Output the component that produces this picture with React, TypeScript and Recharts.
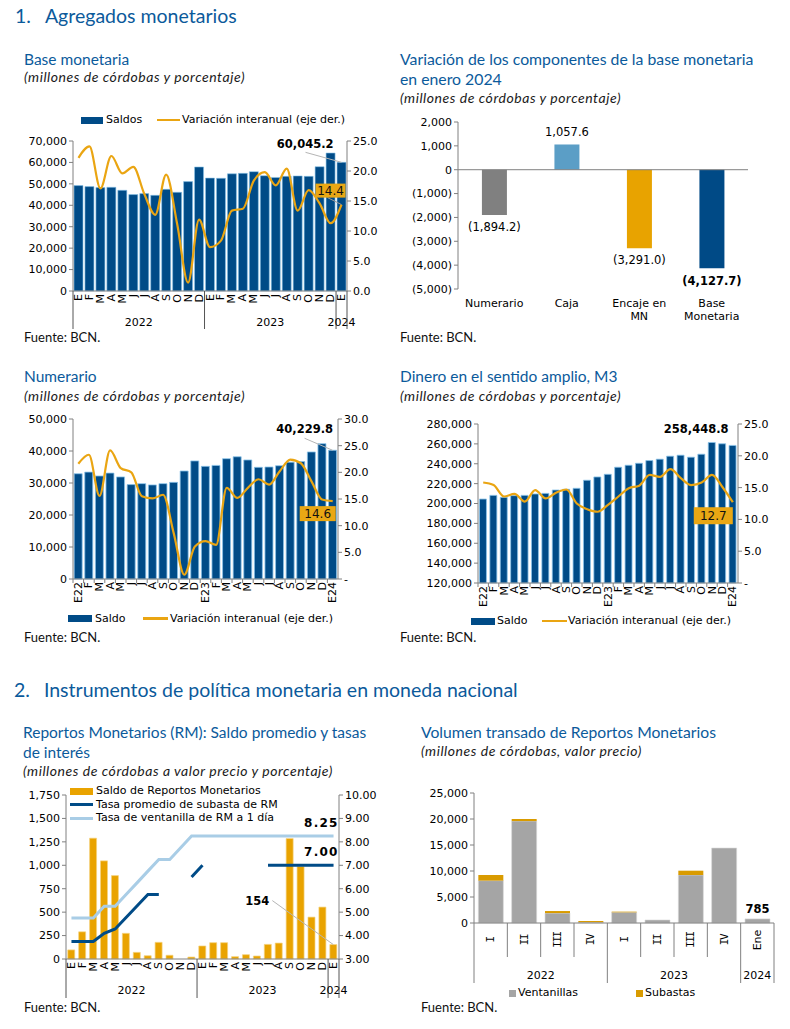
import React from 'react'
import { ComposedChart, BarChart, Bar, Line, XAxis, YAxis, Cell, LabelList, ReferenceLine } from 'recharts'

const TICK_FONT = '"DejaVu Sans", Verdana, sans-serif'
const ROMAN_FONT = '"DejaVu Sans Mono", monospace'
const HEAD_FONT = 'Lato, "Noto Sans", sans-serif'
const HEAD_BLUE = '#0b5a9b'
const BAR_BLUE = '#004b87'
const BAR_EDGE = '#8cc4ea'
const LINE_ORANGE = '#eaa512'
const AXIS = '#808080'

// 1. Base monetaria
const baseMonths = ['E', 'F', 'M', 'A', 'M', 'J', 'J', 'A', 'S', 'O', 'N', 'D', 'E', 'F', 'M', 'A', 'M', 'J', 'J', 'A', 'S', 'O', 'N', 'D', 'E']
const baseSaldos = [49190, 48720, 48250, 48400, 47000, 45000, 45450, 44660, 47460, 46060, 51050, 57870, 52700, 52600, 54700, 54900, 55700, 53800, 53000, 53500, 53700, 53500, 58000, 64400, 60045.2]
const baseVar = [22.2, 24.1, 17.1, 22.5, 19.6, 20.7, 16.2, 12.7, 19.4, 11.2, 1.4, 11.9, 7.3, 8.4, 13.4, 13.7, 18.4, 19.8, 17.6, 20.4, 13.4, 16.8, 14.6, 11.3, 14.4]
const baseLeftTicks = [0, 10000, 20000, 30000, 40000, 50000, 60000, 70000]
const baseRightTicks = [0, 5, 10, 15, 20, 25]

// Variación de componentes
const compNames = ['Numerario', 'Caja', 'Encaje en\nMN', 'Base\nMonetaria']
const compValues = [-1894.2, 1057.6, -3291.0, -4127.7]
const compColors = ['#808080', '#5b9ec6', '#e8a300', '#004a86']
const compTicks = [-5000, -4000, -3000, -2000, -1000, 0, 1000, 2000]

// Numerario
const longMonths = ['E22', 'F', 'M', 'A', 'M', 'J', 'J', 'A', 'S', 'O', 'N', 'D', 'E23', 'F', 'M', 'A', 'M', 'J', 'J', 'A', 'S', 'O', 'N', 'D', 'E24']
const numSaldo = [32900, 33400, 32200, 33100, 31900, 29500, 29800, 29400, 29800, 30200, 33750, 36900, 35200, 35500, 37600, 38200, 37200, 34900, 35000, 35400, 36500, 36700, 39700, 42300, 40229.8]
const numVar = [21.6, 23.3, 15.6, 24.1, 20.8, 20.0, 15.5, 15.1, 15.8, 8.6, 0.8, 6.1, 7.1, 6.4, 17.1, 15.2, 17.1, 18.7, 17.7, 20.2, 22.4, 21.7, 18.3, 14.9, 14.6]
const numLeftTicks = [0, 10000, 20000, 30000, 40000, 50000]
const numRightTicks = [0, 5, 10, 15, 20, 25, 30]

// M3
const m3Saldo = [204500, 208200, 206200, 207900, 208200, 209600, 210200, 213600, 214300, 215300, 223400, 226700, 229400, 236500, 238500, 240500, 243200, 244600, 247600, 248600, 246600, 249600, 261400, 260100, 258448.8]
const m3Var = [15.8, 15.4, 13.6, 14.0, 12.8, 14.6, 13.3, 14.2, 14.7, 12.5, 11.6, 11.2, 12.3, 13.6, 14.9, 15.3, 17.0, 16.7, 17.9, 16.5, 15.4, 15.8, 17.0, 15.1, 12.7]
const m3LeftTicks = [120000, 140000, 160000, 180000, 200000, 220000, 240000, 260000, 280000]
const m3RightTicks = [0, 5, 10, 15, 20, 25]

// Reportos monetarios
const rmSaldo = [97, 290, 1289, 1047, 890, 274, 71, 35, 178, 40, 0, 21, 139, 174, 174, 25, 46, 32, 156, 170, 1285, 987, 447, 554, 154]
const rmSubasta = [3.75, 3.75, 3.75, 4.1, 4.28, 4.77, 5.26, 5.75, 5.75, null, null, 6.5, 7.0, null, null, null, null, null, 7.0, 7.0, 7.0, 7.0, 7.0, 7.0, 7.0]
const rmVentanilla = [4.75, 4.75, 4.75, 5.25, 5.25, 5.75, 6.25, 6.75, 7.25, 7.25, 7.75, 8.25, 8.25, 8.25, 8.25, 8.25, 8.25, 8.25, 8.25, 8.25, 8.25, 8.25, 8.25, 8.25, 8.25]
const rmLeftTicks = [0, 250, 500, 750, 1000, 1250, 1500, 1750]
const rmRightTicks = [3, 4, 5, 6, 7, 8, 9, 10]

// Volumen transado
const volQuarters = ['I', 'II', 'III', 'IV', 'I', 'II', 'III', 'IV', 'Ene']
const volVentanillas = [8150, 19600, 1900, 150, 2050, 580, 9230, 14420, 785]
const volSubastas = [1080, 400, 400, 230, 130, 0, 830, 0, 0]
const volTicks = [0, 5000, 10000, 15000, 20000, 25000]

type Group = { start: number; span: number; label: string }
const monthYears: Group[] = [
  { start: 0, span: 12, label: '2022' },
  { start: 12, span: 12, label: '2023' },
  { start: 24, span: 1, label: '2024' },
]
const volYears: Group[] = [
  { start: 0, span: 4, label: '2022' },
  { start: 4, span: 4, label: '2023' },
  { start: 8, span: 1, label: '2024' },
]

const fmtInt = (v: number) => v.toLocaleString('en-US')
const fmt1 = (v: number) => v.toLocaleString('en-US', { minimumFractionDigits: 1, maximumFractionDigits: 1 })
const fmtParen = (v: number) => (v < 0 ? `(${fmtInt(-v)})` : fmtInt(v))
const fmtParen1 = (v: number) => (v < 0 ? `(${fmt1(-v)})` : fmt1(v))
const dashZero = (v: number) => (v === 0 ? '-' : v.toFixed(1))

const tickStyle = { fontSize: 11, fontFamily: TICK_FONT, fill: '#000' }
const lastOnly = (arr: number[], i: number) => (i === arr.length - 1 ? arr[i] : null)

const baseData = baseMonths.map((m, i) => ({
  m, saldo: baseSaldos[i], variacion: baseVar[i],
  saldoNote: lastOnly(baseSaldos, i), varNote: lastOnly(baseVar, i),
}))
const compData = compNames.map((c, i) => ({
  c, v: compValues[i],
  plain: i < compValues.length - 1 ? compValues[i] : null,
  strong: lastOnly(compValues, i),
}))
const numData = longMonths.map((m, i) => ({
  m, saldo: numSaldo[i], variacion: numVar[i],
  saldoNote: lastOnly(numSaldo, i), varNote: lastOnly(numVar, i),
}))
const m3Data = longMonths.map((m, i) => ({
  m, saldo: m3Saldo[i], variacion: m3Var[i],
  saldoNote: lastOnly(m3Saldo, i), varNote: lastOnly(m3Var, i),
}))
const rmData = baseMonths.map((m, i) => ({
  m, saldo: rmSaldo[i], subasta: rmSubasta[i], ventanilla: rmVentanilla[i],
  saldoNote: lastOnly(rmSaldo, i),
  subNote: i === rmSubasta.length - 1 ? rmSubasta[i] : null,
  ventNote: lastOnly(rmVentanilla, i),
}))
const volData = volQuarters.map((q, i) => ({
  q, vent: volVentanillas[i], sub: volSubastas[i],
  note: i === volQuarters.length - 1 ? volVentanillas[i] + volSubastas[i] : null,
}))

function geom(p: any) {
  const vb = p.viewBox || {}
  const x = vb.x ?? p.x ?? 0
  const y = vb.y ?? p.y ?? 0
  const w = vb.width ?? p.width ?? 0
  const h = vb.height ?? p.height ?? 0
  return { cx: x + w / 2, top: Math.min(y, y + h), bottom: Math.max(y, y + h), y }
}

function bandHalf(p: any, n: number) {
  if (p.payload && p.payload.offset > 0) return p.payload.offset
  return p.width / n / 2
}

function MonthTick(p: any) {
  const { x, y, payload, index, groups, total, yearDy, sepLen, marks } = p
  const half = bandHalf(p, total)
  const g = (groups as Group[]).find((gr) => gr.start === index)
  const ty = y + 3
  return (
    <g>
      {marks && <line x1={x - half} x2={x - half} y1={y} y2={y + 4} stroke={AXIS} />}
      <text x={x} y={ty} transform={`rotate(-90 ${x} ${ty})`} textAnchor="end" dominantBaseline="central" {...tickStyle}>
        {payload.value}
      </text>
      {g && <line x1={x - half} x2={x - half} y1={y} y2={y + sepLen} stroke="#555" />}
      {g && (
        <text x={x - half + g.span * half} y={y + yearDy} textAnchor="middle" {...tickStyle}>
          {g.label}
        </text>
      )}
      {index === total - 1 && <line x1={x + half} x2={x + half} y1={y} y2={y + sepLen} stroke="#555" />}
    </g>
  )
}

function QuarterTick(p: any) {
  const { x, y, payload, index } = p
  const total = volQuarters.length
  const half = bandHalf(p, total)
  const g = volYears.find((gr) => gr.start === index)
  const roman = /^[IV]+$/.test(String(payload.value))
  return (
    <g>
      <line x1={x - half} x2={x - half} y1={y} y2={y + (g ? 60 : 34)} stroke={AXIS} />
      {index === total - 1 && <line x1={x + half} x2={x + half} y1={y} y2={y + 60} stroke={AXIS} />}
      <text
        x={x} y={y + 17} transform={`rotate(-90 ${x} ${y + 17})`} textAnchor="middle" dominantBaseline="central"
        {...tickStyle} fontFamily={roman ? ROMAN_FONT : TICK_FONT} letterSpacing={roman ? -1.5 : 0}
      >
        {payload.value}
      </text>
      {g && (
        <text x={x - half + g.span * half} y={y + 56} textAnchor="middle" {...tickStyle}>
          {g.label}
        </text>
      )}
    </g>
  )
}

function CatTick(p: any) {
  const { x, y, payload } = p
  const lines = String(payload.value).split('\n')
  return (
    <g>
      {lines.map((l, i) => (
        <text key={i} x={x} y={y + 18 + i * 12.5} textAnchor="middle" {...tickStyle}>
          {l}
        </text>
      ))}
    </g>
  )
}

// bold value above a bar, optional leader line
function barNote(dx: number, dy: number, leader: [number, number] | null, digits: number) {
  return function BarNote(p: any) {
    if (p.value == null) return null
    const { cx, top } = geom(p)
    const text = digits ? fmt1(p.value) : fmtInt(p.value)
    return (
      <g>
        {leader && <line x1={cx + leader[0]} y1={top + leader[1]} x2={cx} y2={top} stroke="#b5b5b5" />}
        <text x={cx + dx} y={top + dy} textAnchor={dx === 0 ? 'middle' : 'end'} fontWeight="bold" fontSize={11.5} fontFamily={TICK_FONT} fill="#000">
          {text}
        </text>
      </g>
    )
  }
}

// orange box with the last yearly change
function boxNote(dx: number, dy: number, w: number, h: number, leader: [number, number] | null) {
  return function BoxNote(p: any) {
    if (p.value == null) return null
    const { cx, y } = geom(p)
    return (
      <g>
        {leader && <line x1={cx + leader[0]} y1={y + leader[1]} x2={cx} y2={y} stroke="#9a9a9a" />}
        <rect x={cx + dx} y={y + dy} width={w} height={h} fill="#e9a714" />
        <text x={cx + dx + w / 2} y={y + dy + h / 2} textAnchor="middle" dominantBaseline="central" fontSize={12} fontFamily={TICK_FONT} fill="#111">
          {fmt1(p.value)}
        </text>
      </g>
    )
  }
}

function rateNote(p: any) {
  if (p.value == null) return null
  const { cx, y } = geom(p)
  return (
    <text x={cx + 5} y={y - 9} textAnchor="end" fontWeight="bold" fontSize={12} letterSpacing={1.2} fontFamily={TICK_FONT} fill="#000">
      {p.value.toFixed(2)}
    </text>
  )
}

function compLabel(strong: boolean) {
  return function CompLabel(p: any) {
    if (p.value == null) return null
    const { cx, top, bottom } = geom(p)
    const ty = p.value >= 0 ? top - 8 : bottom + (strong ? 17 : 16)
    return (
      <text x={cx} y={ty} textAnchor="middle" fontWeight={strong ? 'bold' : 'normal'} fontSize={11.5} fontFamily={TICK_FONT} fill="#000">
        {fmtParen1(p.value)}
      </text>
    )
  }
}

function T({ x, b, size, children, italic, color = '#111', spacing = 0 }: any) {
  return (
    <div
      style={{
        position: 'absolute', left: x, top: b - size * 0.89, fontSize: size, lineHeight: `${size}px`,
        fontFamily: HEAD_FONT, fontStyle: italic ? 'italic' : 'normal', color, whiteSpace: 'nowrap',
        letterSpacing: spacing,
      }}
    >
      {children}
    </div>
  )
}

function Sub({ x, b, children }: any) {
  return <T x={x} b={b} size={14} italic spacing={0.55} color="#1a1a1a">{children}</T>
}

function Sym({ x, cy, w, h, color }: any) {
  return <div style={{ position: 'absolute', left: x, top: cy - h / 2, width: w, height: h, background: color }} />
}

function LText({ x, cy, children }: any) {
  return (
    <div style={{ position: 'absolute', left: x, top: cy - 7, lineHeight: '14px', fontSize: 11, fontFamily: TICK_FONT, color: '#000', whiteSpace: 'nowrap' }}>
      {children}
    </div>
  )
}

function Abs({ x, y, children }: any) {
  return <div style={{ position: 'absolute', left: x, top: y }}>{children}</div>
}

const svgStyle = { overflow: 'visible' as const }

export default function App() {
  return (
    <div style={{ position: 'absolute', left: 0, top: 0, width: 790, height: 1029, background: '#fff', overflow: 'hidden' }}>
      <T x={15} b={23.5} size={19.5} color={HEAD_BLUE}>
        1.<span style={{ marginLeft: 14 }}>Agregados monetarios</span>
      </T>

      {/* Base monetaria */}
      <T x={24} b={65.5} size={15.5} color={HEAD_BLUE}>Base monetaria</T>
      <Sub x={24} b={82.5}>(millones de córdobas y porcentaje)</Sub>
      <Sym x={81} cy={120} w={22} h={7} color={BAR_BLUE} />
      <LText x={106} cy={120}>Saldos</LText>
      <Sym x={157} cy={120} w={23} h={2.5} color={LINE_ORANGE} />
      <LText x={182} cy={120}>Variación interanual (eje der.)</LText>
      <Abs x={20} y={100}>
        <ComposedChart width={380} height={240} data={baseData} margin={{ top: 41, right: 20, left: 0, bottom: 0 }} barCategoryGap="9%" style={svgStyle}>
          <XAxis
            dataKey="m" interval={0} height={49} tickSize={0} tickMargin={0} stroke={AXIS}
            tick={(p: any) => <MonthTick {...p} groups={monthYears} total={25} yearDy={35} sepLen={38} />}
          />
          <YAxis yAxisId="l" width={53} domain={[0, 70000]} ticks={baseLeftTicks} tickFormatter={fmtInt} tick={tickStyle} stroke={AXIS} tickSize={4} interval={0} />
          <YAxis yAxisId="r" orientation="right" width={33} domain={[0, 25]} ticks={baseRightTicks} tickFormatter={(v: number) => v.toFixed(1)} tick={tickStyle} stroke={AXIS} tickSize={4} interval={0} />
          <Bar yAxisId="l" dataKey="saldo" fill={BAR_BLUE} stroke={BAR_EDGE} strokeWidth={0.6} isAnimationActive={false}>
            <LabelList dataKey="saldoNote" content={barNote(-8, -14, [-36, -10], 1)} />
          </Bar>
          <Line yAxisId="r" type="monotone" dataKey="variacion" stroke={LINE_ORANGE} strokeWidth={2.2} dot={false} isAnimationActive={false}>
            <LabelList dataKey="varNote" content={boxNote(-26, -21, 30, 14, [-14, -7])} />
          </Line>
        </ComposedChart>
      </Abs>
      <T x={24} b={343} size={13}>Fuente: BCN.</T>

      {/* Variación de componentes */}
      <T x={400} b={65.5} size={15.8} color={HEAD_BLUE}>Variación de los componentes de la base monetaria</T>
      <T x={400} b={85} size={15.8} color={HEAD_BLUE}>en enero 2024</T>
      <Sub x={400} b={103}>(millones de córdobas y porcentaje)</Sub>
      <Abs x={395} y={100}>
        <BarChart width={380} height={240} data={compData} margin={{ top: 22, right: 27, left: 0, bottom: 0 }} barCategoryGap="33%" style={svgStyle}>
          <XAxis dataKey="c" interval={0} height={51} tickSize={0} tickMargin={0} axisLine={false} tick={CatTick} />
          <YAxis width={63} domain={[-5000, 2000]} ticks={compTicks} tickFormatter={fmtParen} tick={tickStyle} stroke={AXIS} tickSize={4} interval={0} />
          <Bar dataKey="v" isAnimationActive={false}>
            {compValues.map((_, i) => (
              <Cell key={i} fill={compColors[i]} />
            ))}
            <LabelList dataKey="plain" content={compLabel(false)} />
            <LabelList dataKey="strong" content={compLabel(true)} />
          </Bar>
          <ReferenceLine y={0} stroke={AXIS} />
        </BarChart>
      </Abs>
      <T x={400} b={343} size={13}>Fuente: BCN.</T>

      {/* Numerario */}
      <T x={24} b={382.5} size={15.5} color={HEAD_BLUE}>Numerario</T>
      <Sub x={24} b={401}>(millones de córdobas y porcentaje)</Sub>
      <Abs x={20} y={400}>
        <ComposedChart width={360} height={205} data={numData} margin={{ top: 19, right: 7, left: 0, bottom: 0 }} barCategoryGap="11%" style={svgStyle}>
          <XAxis
            dataKey="m" interval={0} height={26} tickSize={0} tickMargin={0} stroke={AXIS}
            tick={(p: any) => <MonthTick {...p} groups={[]} total={25} yearDy={0} sepLen={0} marks />}
          />
          <YAxis yAxisId="l" width={53} domain={[0, 50000]} ticks={numLeftTicks} tickFormatter={fmtInt} tick={tickStyle} stroke={AXIS} tickSize={4} interval={0} />
          <YAxis yAxisId="r" orientation="right" width={35} domain={[0, 30]} ticks={numRightTicks} tickFormatter={dashZero} tick={tickStyle} stroke={AXIS} tickSize={4} interval={0} />
          <Bar yAxisId="l" dataKey="saldo" fill={BAR_BLUE} stroke={BAR_EDGE} strokeWidth={0.8} isAnimationActive={false}>
            <LabelList dataKey="saldoNote" content={barNote(0.5, -17, [-28, -12], 1)} />
          </Bar>
          <Line yAxisId="r" type="monotone" dataKey="variacion" stroke={LINE_ORANGE} strokeWidth={2.2} dot={false} isAnimationActive={false}>
            <LabelList dataKey="varNote" content={boxNote(-33, 5, 36, 15, null)} />
          </Line>
        </ComposedChart>
      </Abs>
      <Sym x={68} cy={618.5} w={24} h={7} color={BAR_BLUE} />
      <LText x={95} cy={618.5}>Saldo</LText>
      <Sym x={143} cy={618.5} w={25} h={2.5} color={LINE_ORANGE} />
      <LText x={170} cy={618.5}>Variación interanual (eje der.)</LText>
      <T x={24} b={643} size={13}>Fuente: BCN.</T>

      {/* M3 */}
      <T x={400} b={382.5} size={15.5} color={HEAD_BLUE}>Dinero en el sentido amplio, M3</T>
      <Sub x={400} b={401}>(millones de córdobas y porcentaje)</Sub>
      <Abs x={395} y={400}>
        <ComposedChart width={385} height={210} data={m3Data} margin={{ top: 24, right: 5, left: 0, bottom: 0 }} barCategoryGap="14%" style={svgStyle}>
          <XAxis
            dataKey="m" interval={0} height={27} tickSize={0} tickMargin={0} stroke={AXIS}
            tick={(p: any) => <MonthTick {...p} groups={[]} total={25} yearDy={0} sepLen={0} marks />}
          />
          <YAxis yAxisId="l" width={83} domain={[120000, 280000]} ticks={m3LeftTicks} tickFormatter={fmtInt} tick={tickStyle} stroke={AXIS} tickSize={4} interval={0} />
          <YAxis yAxisId="r" orientation="right" width={37} domain={[0, 25]} ticks={m3RightTicks} tickFormatter={dashZero} tick={tickStyle} stroke={AXIS} tickSize={4} interval={0} />
          <Bar yAxisId="l" dataKey="saldo" fill={BAR_BLUE} stroke={BAR_EDGE} strokeWidth={0.8} isAnimationActive={false}>
            <LabelList dataKey="saldoNote" content={barNote(-4, -12, null, 1)} />
          </Bar>
          <Line yAxisId="r" type="monotone" dataKey="variacion" stroke={LINE_ORANGE} strokeWidth={2.2} dot={false} isAnimationActive={false}>
            <LabelList dataKey="varNote" content={boxNote(-39, 5, 39, 17, null)} />
          </Line>
        </ComposedChart>
      </Abs>
      <Sym x={471} cy={621} w={24} h={7} color={BAR_BLUE} />
      <LText x={497} cy={621}>Saldo</LText>
      <Sym x={542} cy={621} w={25} h={2.5} color={LINE_ORANGE} />
      <LText x={568} cy={621}>Variación interanual (eje der.)</LText>
      <T x={400} b={643} size={13}>Fuente: BCN.</T>

      {/* Section 2 */}
      <T x={14} b={697} size={19.5} color={HEAD_BLUE}>
        2.<span style={{ marginLeft: 14 }}>Instrumentos de política monetaria en moneda nacional</span>
      </T>

      {/* Reportos monetarios */}
      <T x={23} b={738.5} size={15.5} color={HEAD_BLUE}>Reportos Monetarios (RM): Saldo promedio y tasas</T>
      <T x={23} b={758.5} size={15.5} color={HEAD_BLUE}>de interés</T>
      <Sub x={23} b={776}>(millones de córdobas a valor precio y porcentaje)</Sub>
      <Abs x={20} y={780}>
        <ComposedChart width={370} height={220} data={rmData} margin={{ top: 15, right: 11, left: 0, bottom: 0 }} barCategoryGap="16%" style={svgStyle}>
          <XAxis
            dataKey="m" interval={0} height={41} tickSize={0} tickMargin={0} stroke={AXIS}
            tick={(p: any) => <MonthTick {...p} groups={monthYears} total={25} yearDy={35} sepLen={39} />}
          />
          <YAxis yAxisId="l" width={46} domain={[0, 1750]} ticks={rmLeftTicks} tickFormatter={fmtInt} tick={tickStyle} stroke={AXIS} tickSize={4} interval={0} />
          <YAxis yAxisId="r" orientation="right" width={40} domain={[3, 10]} ticks={rmRightTicks} tickFormatter={(v: number) => v.toFixed(2)} tick={tickStyle} stroke={AXIS} tickSize={4} interval={0} />
          <Bar yAxisId="l" dataKey="saldo" fill="#e9a300" stroke="#f5d27e" strokeWidth={0.7} isAnimationActive={false}>
            <LabelList dataKey="saldoNote" content={barNote(-64, -40, [-61, -44], 0)} />
          </Bar>
          <Line yAxisId="r" type="linear" dataKey="ventanilla" stroke="#a9cde6" strokeWidth={3} dot={false} isAnimationActive={false}>
            <LabelList dataKey="ventNote" content={rateNote} />
          </Line>
          <Line yAxisId="r" type="linear" dataKey="subasta" stroke={BAR_BLUE} strokeWidth={3} dot={false} isAnimationActive={false}>
            <LabelList dataKey="subNote" content={rateNote} />
          </Line>
        </ComposedChart>
      </Abs>
      <Sym x={70} cy={791} w={23} h={7} color="#e9a300" />
      <LText x={96} cy={791}>Saldo de Reportos Monetarios</LText>
      <Sym x={70} cy={804.5} w={23} h={3} color={BAR_BLUE} />
      <LText x={96} cy={804.5}>Tasa promedio de subasta de RM</LText>
      <Sym x={70} cy={818} w={23} h={3} color="#a9cde6" />
      <LText x={96} cy={818}>Tasa de ventanilla de RM a 1 día</LText>
      <T x={24} b={1013} size={13}>Fuente: BCN.</T>

      {/* Volumen transado */}
      <T x={421} b={738.5} size={15.7} color={HEAD_BLUE}>Volumen transado de Reportos Monetarios</T>
      <Sub x={421} b={756.5}>(millones de córdobas, valor precio)</Sub>
      <Abs x={395} y={780}>
        <BarChart width={390} height={205} data={volData} margin={{ top: 13, right: 11, left: 0, bottom: 0 }} barCategoryGap="13%" style={svgStyle}>
          <XAxis dataKey="q" interval={0} height={62} tickSize={0} tickMargin={0} stroke={AXIS} tick={QuarterTick} />
          <YAxis width={79} domain={[0, 25000]} ticks={volTicks} tickFormatter={fmtInt} tick={tickStyle} stroke={AXIS} tickSize={4} interval={0} />
          <Bar dataKey="vent" stackId="s" fill="#a5a5a5" stroke="#d9d9d9" strokeWidth={0.6} isAnimationActive={false}>
            <LabelList dataKey="note" content={barNote(0, -6, null, 0)} />
          </Bar>
          <Bar dataKey="sub" stackId="s" fill="#d99b00" isAnimationActive={false} />
        </BarChart>
      </Abs>
      <Sym x={509} cy={993} w={7} h={7} color="#a5a5a5" />
      <LText x={518} cy={993}>Ventanillas</LText>
      <Sym x={636} cy={993} w={7} h={7} color="#d99b00" />
      <LText x={645} cy={993}>Subastas</LText>
      <T x={421} b={1013} size={13}>Fuente: BCN.</T>
    </div>
  )
}
